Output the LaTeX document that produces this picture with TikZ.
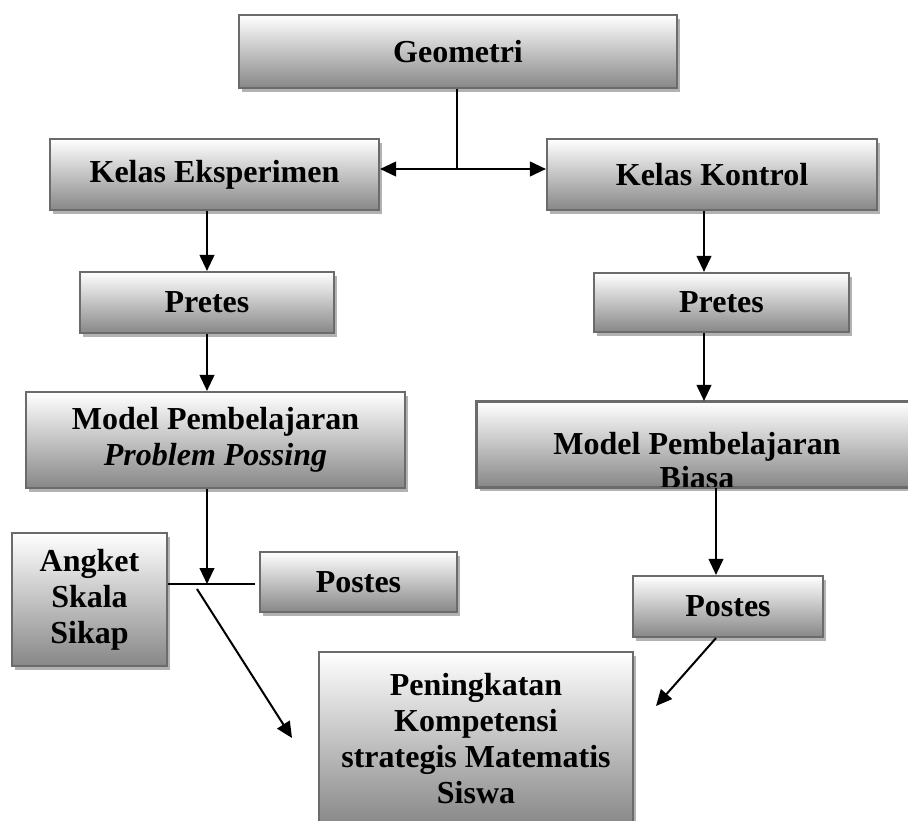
\documentclass[tikz,border=0pt]{standalone}
\usepackage{fontspec}
\setmainfont{Liberation Serif}
\usetikzlibrary{shadows,arrows.meta}
\begin{document}
\begin{tikzpicture}[x=0.75pt,y=-0.75pt,
  boxfont/.style={font=\fontsize{24}{27}\selectfont\bfseries},
  box/.style={draw=black!58, line width=1.6pt, top color=white, bottom color=black!47,
    align=center, inner sep=0pt, boxfont,
    drop shadow={shadow xshift=2.5pt, shadow yshift=-3pt, fill=black!30, opacity=1}},
  arr/.style={line width=1.5pt, -{Triangle[length=12pt,width=11pt]}},
  dbl/.style={line width=1.5pt, {Triangle[length=12pt,width=11pt]}-{Triangle[length=12pt,width=11pt]}},
  ln/.style={line width=1.5pt}]
\clip (0,0) rectangle (908,821);
\fill[white] (0,0) rectangle (908,821);

\node[box, minimum width=328.5pt, minimum height=54.75pt] (geo) at (458,51.5) {Geometri};
\node[box, minimum width=246.75pt, minimum height=53.25pt] (ke) at (214.5,174.5) {Kelas Eksperimen};
\node[box, minimum width=247.5pt, minimum height=53.25pt] (kk) at (712,174.5) {Kelas Kontrol};
\node[box, minimum width=190.5pt, minimum height=45.75pt] (pre1) at (207,302.5) {Pretes};
\node[box, minimum width=191.25pt, minimum height=44.25pt] (pre2) at (721.5,302.5) {Pretes};
\node[box, minimum width=284.25pt, minimum height=72pt] (mpp) at (215.5,440) {Model Pembelajaran\\\textit{Problem Possing}};
\node[box, minimum width=345pt, minimum height=63.75pt] (mb) at (707,444.5) {};
\begin{scope}
  \clip (477,402) rectangle (937,486);
  \node[font=\fontsize{24}{26}\selectfont\bfseries, align=center, inner sep=0pt] (mbtext) at (697,460.5) {Model Pembelajaran\\Biasa};
\end{scope}
\draw[draw=black!58, line width=1.6pt] (mb.north west) rectangle (mb.south east);
\node[box, minimum width=116.25pt, minimum height=99.75pt] (ang) at (89.5,599.5) {Angket\\Skala\\Sikap};
\node[box, minimum width=147.75pt, minimum height=45pt] (pos1) at (358.5,582) {Postes};
\node[box, minimum width=142.5pt, minimum height=45.75pt] (pos2) at (728,606.5) {Postes};
\node[box, minimum width=235.5pt, minimum height=130.5pt] (pen) at (476,739) {Peningkatan\\Kompetensi\\strategis Matematis\\Siswa};

% top junction
\coordinate (j1) at (457,169);
\draw[ln] (geo.south -| j1) -- (j1);
\draw[dbl] (ke.east |- j1) -- (kk.west |- j1);

% left column
\coordinate (lx) at (207,0);
\draw[arr] (ke.south -| lx) -- (pre1.north -| lx);
\draw[arr] (pre1.south -| lx) -- (mpp.north -| lx);
\coordinate (j2) at (207,584);
\coordinate (j2e) at (255,584);
\draw[arr] (mpp.south -| lx) -- (j2);
\draw[ln] (ang.east |- j2) -- (j2e);
\coordinate (d1) at (197,589);
\coordinate (d2) at (292,738);
\draw[arr] (d1) -- (d2);

% right column
\coordinate (rx1) at (704,0);
\coordinate (rx2) at (716,0);
\draw[arr] (kk.south -| rx1) -- (pre2.north -| rx1);
\draw[arr] (pre2.south -| rx1) -- (mb.north -| rx1);
\draw[arr] (mb.south -| rx2) -- (pos2.north -| rx2);
\coordinate (e2) at (656,706);
\draw[arr] (pos2.south -| rx2) -- (e2);
\end{tikzpicture}
\end{document}
